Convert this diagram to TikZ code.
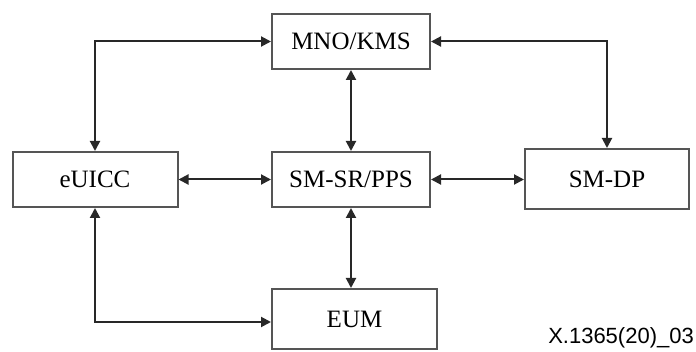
\documentclass[tikz,border=0pt]{standalone}
\usepackage{fontspec}
\setmainfont{Liberation Serif}
\newfontfamily\labelfont{Liberation Sans}
\usetikzlibrary{arrows.meta}
\definecolor{boxline}{RGB}{85,85,85}
\definecolor{arrline}{RGB}{40,40,40}
\tikzset{
  blk/.style={draw=boxline, line width=2pt, rectangle, inner sep=0pt,
    font=\fontsize{25}{30}\selectfont},
  conn/.style={draw=arrline, line width=2pt,
    {Triangle[length=10pt,width=10pt]}-{Triangle[length=10pt,width=10pt]}}
}
\begin{document}
\begin{tikzpicture}[x=1pt,y=-1pt]
\useasboundingbox (0,0) rectangle (696,352);
\node[blk, minimum width=158pt, minimum height=55pt] (mno) at (351,41.5) {MNO/KMS};
\node[blk, minimum width=165pt, minimum height=55pt] (euicc) at (95,179.5) {eUICC};
\node[blk, minimum width=158pt, minimum height=55pt] (smsr) at (351,179.5) {SM-SR/PPS};
\node[blk, minimum width=164pt, minimum height=60pt] (smdp) at (607,179) {SM-DP};
\node[blk, minimum width=165pt, minimum height=60pt] (eum) at (354.5,319) {EUM};
\node[anchor=south east, inner sep=0pt, font=\labelfont\fontsize{22}{26}\selectfont] (lbl) at (694,348) {X.1365(20)\_03};
\coordinate (eumin) at ([yshift=-3pt]eum.west);
\draw[conn] (euicc.north) |- (mno.west);
\draw[conn] (mno.east) -| (smdp.north);
\draw[conn] (mno.south) -- (smsr.north);
\draw[conn] (euicc.east) -- (smsr.west);
\draw[conn] (smsr.east) -- (smsr.east -| smdp.west);
\draw[conn] (smsr.south) -- (smsr.south |- eum.north);
\draw[conn] (euicc.south) |- (eumin);
\end{tikzpicture}
\end{document}
